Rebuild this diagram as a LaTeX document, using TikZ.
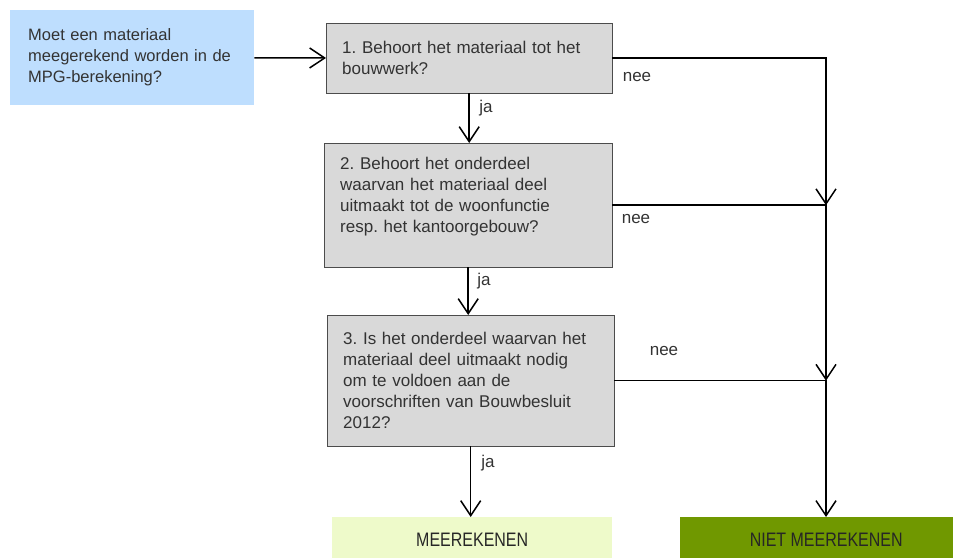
\documentclass[tikz,border=0pt]{standalone}
\usepackage{fontspec}
\setmainfont{Liberation Sans}
\newfontfamily\narrowfont[FakeStretch=0.82]{Liberation Sans}
\usetikzlibrary{arrows.meta}
\definecolor{StartBlue}{RGB}{190,222,254}
\definecolor{QuestGray}{RGB}{217,217,217}
\definecolor{YesGreen}{RGB}{238,250,202}
\definecolor{NoGreen}{RGB}{112,152,0}
\definecolor{TextGray}{RGB}{51,51,51}
\frenchspacing

\begin{document}
\begin{tikzpicture}[x=1pt,y=-1pt,
    startbox/.style={fill=StartBlue, anchor=north west, align=left, inner xsep=18pt, inner ysep=0pt,
        text=TextGray, font=\fontsize{16.5}{21}\selectfont},
    questbox/.style={draw=black!70, fill=QuestGray, anchor=north west, align=left, inner xsep=16pt, inner ysep=0pt,
        text=TextGray, font=\fontsize{17}{21}\selectfont},
    endbox/.style={anchor=north west, inner sep=0pt, minimum height=45pt, text=black!85,
        font=\narrowfont\fontsize{19.5}{22}\selectfont},
    lbl/.style={text=TextGray, font=\fontsize{17}{20}\selectfont},
    flow/.style={line width=1.5pt, -{Straight Barb[length=15pt,width=20pt]}}]

    \useasboundingbox (0,0) rectangle (953,557);

    % boxes
    \node[startbox, text width=208pt, minimum height=95pt] (start) at (10,10)
        {Moet een materiaal\\meegerekend worden in de\\MPG-berekening?};
    \node[questbox, text width=254pt, minimum height=70pt] (q1) at (326,23)
        {1. Behoort het materiaal tot het\\bouwwerk?};
    \node[questbox, text width=256pt, minimum height=124pt] (q2) at (324,143)
        {2. Behoort het onderdeel\\waarvan het materiaal deel\\uitmaakt tot de woonfunctie\\resp. het kantoorgebouw?\\~};
    \node[questbox, text width=255pt, minimum height=131pt] (q3) at (327,315)
        {3. Is het onderdeel waarvan het\\materiaal deel uitmaakt nodig\\om te voldoen aan de\\voorschriften van Bouwbesluit\\2012?};
    \node[endbox, fill=YesGreen, minimum width=280pt] (yes) at (332,517) {MEEREKENEN};
    \node[endbox, fill=NoGreen, minimum width=292pt] (no) at (680,517) {NIET MEEREKENEN};
    \coordinate (rail) at (826,0);

    % ja
    \draw[flow] (start) -- (q1);
    \draw[flow] (q1.south) -- (q1.south |- q2.north);
    \draw[flow] (q2.south) -- (q2.south |- q3.north);
    \draw[flow] (q3.south) -- (q3.south |- yes.north);

    % nee
    \draw[flow] (q1.east) -- (q1.east -| rail) -- (q2.east -| rail);
    \draw[flow] (q2.east) -- (q2.east -| rail) -- (q3.east -| rail);
    \draw[flow] (q3.east) -- (q3.east -| rail) -- (no.north -| rail);

    \node[lbl] (ja1) at (486,108) {ja};
    \node[lbl] (ja2) at (484,281) {ja};
    \node[lbl] (ja3) at (488,463) {ja};
    \node[lbl] (nee1) at (637,77) {nee};
    \node[lbl] (nee2) at (636,219) {nee};
    \node[lbl] (nee3) at (664,351) {nee};
\end{tikzpicture}
\end{document}
